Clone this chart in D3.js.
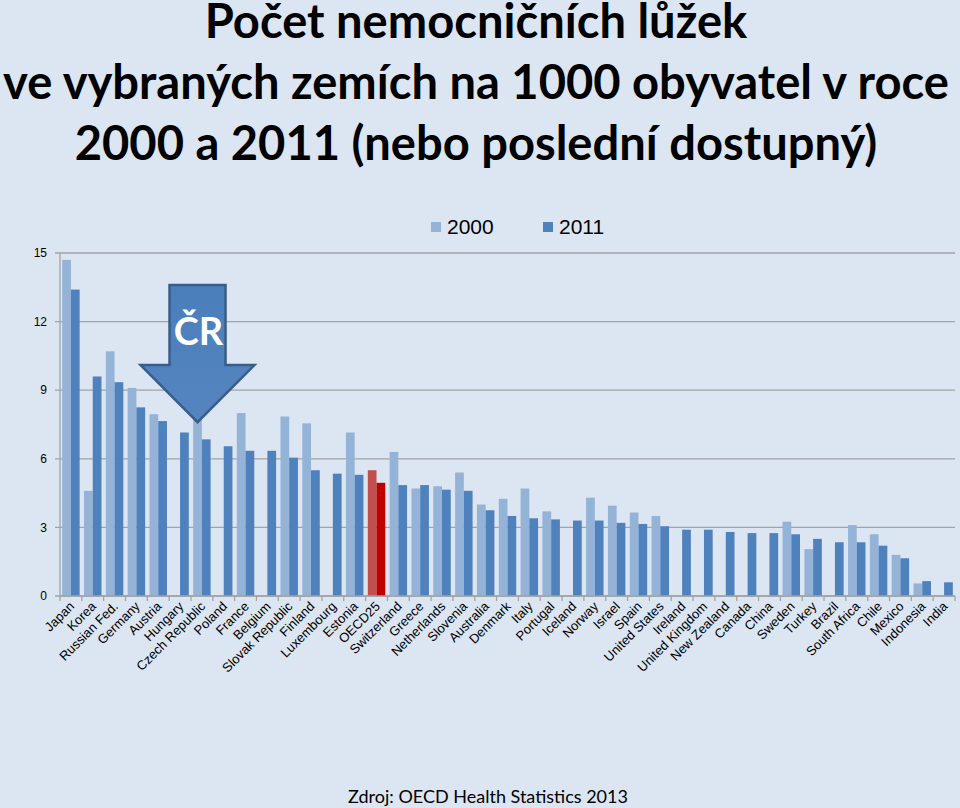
<!DOCTYPE html>
<html>
<head>
<meta charset="utf-8">
<script src="https://cdn.jsdelivr.net/npm/d3@7"></script>
<style>
  body { margin: 0; background: #dce6f2; }
  svg { display: block; }
</style>
</head>
<body>
<svg id="chart" width="960" height="808"></svg>
<script>
// hospital beds per 1000 inhabitants, null = no bar in the picture
var countries = ["Japan", "Korea", "Russian Fed.", "Germany", "Austria", "Hungary", "Czech Republic",
  "Poland", "France", "Belgium", "Slovak Republic", "Finland", "Luxembourg", "Estonia", "OECD25",
  "Switzerland", "Greece", "Netherlands", "Slovenia", "Australia", "Denmark", "Italy", "Portugal",
  "Iceland", "Norway", "Israel", "Spain", "United States", "Ireland", "United Kingdom", "New Zealand",
  "Canada", "China", "Sweden", "Turkey", "Brazil", "South Africa", "Chile", "Mexico", "Indonesia", "India"];

var beds2000 = [14.7, 4.6, 10.7, 9.1, 7.95, null, 7.8,
  null, 8.0, null, 7.85, 7.55, null, 7.15, 5.5,
  6.3, 4.7, 4.8, 5.4, 4.0, 4.25, 4.7, 3.7,
  null, 4.3, 3.95, 3.65, 3.5, null, null, null,
  null, null, 3.25, 2.05, null, 3.1, 2.7, 1.8, 0.55, null];

var beds2011 = [13.4, 9.6, 9.35, 8.25, 7.65, 7.15, 6.85,
  6.55, 6.35, 6.35, 6.05, 5.5, 5.35, 5.3, 4.95,
  4.85, 4.85, 4.65, 4.6, 3.75, 3.5, 3.4, 3.35,
  3.3, 3.3, 3.2, 3.15, 3.05, 2.9, 2.9, 2.8,
  2.75, 2.75, 2.7, 2.5, 2.35, 2.35, 2.2, 1.65, 0.65, 0.6];

var years = ["2000", "2011"];
var yTicks = [0, 3, 6, 9, 12, 15];
var highlight = "OECD25";

var titleLines = ["Počet nemocničních lůžek",
  "ve vybraných zemích na 1000 obyvatel v roce",
  "2000 a 2011 (nebo poslední dostupný)"];
var source = "Zdroj: OECD Health Statistics 2013";

var colors = { "2000": "#95b3d7", "2011": "#4f81bd" };
var hiColors = { "2000": "#c0504d", "2011": "#c00000" };

var svg = d3.select("#chart");

var plotLeft = 60, plotRight = 955, plotTop = 253, plotBottom = 596;

var x0 = d3.scaleBand().domain(countries).range([plotLeft, plotRight]).paddingInner(0.2).paddingOuter(0.1);
var x1 = d3.scaleBand().domain(years).range([0, x0.bandwidth()]);
var y = d3.scaleLinear().domain([0, 15]).range([plotBottom, plotTop]);

// title, sized so the second line fills the width like the original
var title = svg.append("g").attr("font-family", "Lato, 'Open Sans', sans-serif")
  .attr("font-weight", "bold").attr("text-anchor", "middle");
var tl = title.selectAll("text").data(titleLines).enter().append("text")
  .attr("x", 476)
  .attr("y", (d, i) => 38 + i * 61)
  .attr("font-size", 50)
  .text(d => d);
var w2 = tl.nodes()[1].getComputedTextLength();
tl.attr("font-size", 50 * 946 / w2);

// gridlines
svg.append("g").selectAll("line").data(yTicks).enter().append("line")
  .attr("x1", plotLeft - 5).attr("x2", plotRight)
  .attr("y1", d => y(d)).attr("y2", d => y(d))
  .attr("stroke", "#a3a3a3").attr("stroke-width", 1.3);

// y axis line
svg.append("line").attr("x1", plotLeft).attr("x2", plotLeft).attr("y1", y(15)).attr("y2", y(0))
  .attr("stroke", "#a3a3a3").attr("stroke-width", 1.3);

svg.append("g").attr("font-family", "'Liberation Sans', Arial, sans-serif").attr("font-size", 12)
  .attr("text-anchor", "end")
  .selectAll("text").data(yTicks).enter().append("text")
  .attr("x", plotLeft - 13).attr("y", d => y(d)).attr("dy", "0.35em")
  .text(d => d);

// bars
var groups = svg.append("g").selectAll("g").data(countries).enter().append("g")
  .attr("transform", d => "translate(" + x0(d) + ",0)");

groups.selectAll("rect")
  .data((c, i) => [
    { country: c, year: "2000", value: beds2000[i] },
    { country: c, year: "2011", value: beds2011[i] }
  ].filter(d => d.value != null))
  .enter().append("rect")
  .attr("x", d => x1(d.year))
  .attr("width", x1.bandwidth())
  .attr("y", d => y(d.value))
  .attr("height", d => y(0) - y(d.value))
  .attr("fill", d => d.country == highlight ? hiColors[d.year] : colors[d.year]);

// x axis line and ticks between categories
var step = x0.step();
var edges = countries.map(c => x0(c) - step * x0.paddingInner() / 2);
edges.push(plotRight);
svg.append("line").attr("x1", plotLeft).attr("x2", plotRight).attr("y1", y(0)).attr("y2", y(0))
  .attr("stroke", "#a3a3a3").attr("stroke-width", 1.3);
svg.append("g").selectAll("line").data(edges).enter().append("line")
  .attr("x1", d => d).attr("x2", d => d).attr("y1", y(0)).attr("y2", y(0) + 5)
  .attr("stroke", "#a3a3a3").attr("stroke-width", 1.3);

svg.append("g").attr("font-family", "'Liberation Sans', Arial, sans-serif").attr("font-size", 13)
  .attr("text-anchor", "end")
  .selectAll("text").data(countries).enter().append("text")
  .attr("transform", d => "translate(" + (x0(d) + x0.bandwidth() / 2 + 1) + "," + (y(0) + 8) + ") rotate(-45)")
  .attr("dy", "0.35em")
  .text(d => d);

// legend
var legend = svg.append("g").attr("font-family", "'Liberation Sans', Arial, sans-serif").attr("font-size", 21);
var lx = [431, 543];
years.forEach(function(yr, i) {
  legend.append("rect").attr("x", lx[i]).attr("y", 222).attr("width", 10).attr("height", 10)
    .attr("fill", colors[yr]);
  legend.append("text").attr("x", lx[i] + 16).attr("y", 234).text(yr);
});

// arrow pointing at the Czech Republic 2000 bar
var target = "Czech Republic";
var ax = x0(target) + x1("2000") + x1.bandwidth() / 2;
var tipY = y(7.6), headY = y(10.1), arrowTop = y(13.6);
var shaftW = 28, headW = 57;
var defs = svg.append("defs");
var grad = defs.append("linearGradient").attr("id", "arrowFill").attr("x1", 0).attr("x2", 0).attr("y1", 0).attr("y2", 1);
grad.append("stop").attr("offset", "0%").attr("stop-color", "#4a7ebb");
grad.append("stop").attr("offset", "100%").attr("stop-color", "#5585c0");
svg.append("path")
  .attr("d", d3.line()([
    [ax - shaftW, arrowTop], [ax + shaftW, arrowTop], [ax + shaftW, headY], [ax + headW, headY],
    [ax, tipY], [ax - headW, headY], [ax - shaftW, headY]
  ]) + "Z")
  .attr("fill", "url(#arrowFill)")
  .attr("stroke", "#385d8a").attr("stroke-width", 2.5).attr("stroke-linejoin", "miter");
svg.append("text").attr("x", ax + 1).attr("y", arrowTop + 60)
  .attr("text-anchor", "middle").attr("font-family", "Lato, 'Open Sans', sans-serif")
  .attr("font-weight", "bold").attr("font-size", 38).attr("fill", "#fff")
  .text("ČR");

// source
svg.append("text").attr("x", 488).attr("y", 803).attr("text-anchor", "middle")
  .attr("font-family", "Lato, 'Open Sans', sans-serif").attr("font-size", 18)
  .text(source);
</script>
</body>
</html>
